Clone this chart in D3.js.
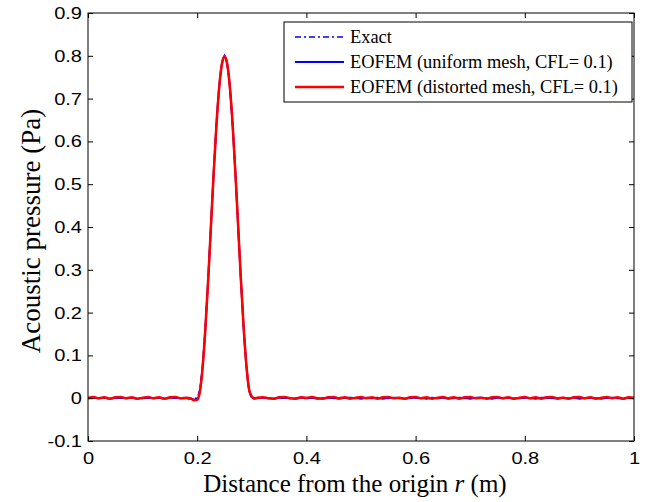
<!DOCTYPE html>
<html><head><meta charset="utf-8">
<script src="https://cdn.jsdelivr.net/npm/d3@7"></script>
<style>body{margin:0;background:#fff}svg{display:block}</style>
</head><body>
<svg id="chart" width="649" height="502"></svg>
<script>
// ---- data ----
const xTicks = [0, 0.2, 0.4, 0.6, 0.8, 1];
const xTickLabels = ["0", "0.2", "0.4", "0.6", "0.8", "1"];
const yTicks = [-0.1, 0, 0.1, 0.2, 0.3, 0.4, 0.5, 0.6, 0.7, 0.8, 0.9];
const yTickLabels = ["-0.1", "0", "0.1", "0.2", "0.3", "0.4", "0.5", "0.6", "0.7", "0.8", "0.9"];
const seriesNames = ["Exact", "EOFEM (uniform mesh, CFL= 0.1)", "EOFEM (distorted mesh, CFL= 0.1)"];

const rExact = [0, 0.2, 0.205, 0.21, 0.215, 0.22, 0.225, 0.23, 0.235, 0.24, 0.245, 0.25,
  0.255, 0.26, 0.265, 0.27, 0.275, 0.28, 0.285, 0.29, 0.295, 0.3, 1];
const pExact = [0, 0, 0.020, 0.076, 0.165, 0.276, 0.400, 0.524, 0.635, 0.724, 0.780, 0.800,
  0.780, 0.724, 0.635, 0.524, 0.400, 0.276, 0.165, 0.076, 0.020, 0, 0];

const rNum = [0, 0.01, 0.02, 0.03, 0.04, 0.05, 0.06, 0.07, 0.08, 0.09, 0.10, 0.11, 0.12, 0.13, 0.14,
  0.15, 0.16, 0.17, 0.18, 0.19, 0.195, 0.2, 0.205, 0.21, 0.215, 0.22, 0.225, 0.23, 0.235, 0.24,
  0.245, 0.25, 0.255, 0.26, 0.265, 0.27, 0.275, 0.28, 0.285, 0.29, 0.295, 0.3, 0.305, 0.31,
  0.32, 0.33, 0.34, 0.35, 0.36, 0.37, 0.38, 0.39, 0.40, 0.41, 0.42, 0.43, 0.44, 0.45, 0.46,
  0.47, 0.48, 0.49, 0.50, 0.51, 0.52, 0.53, 0.54, 0.55, 0.56, 0.57, 0.58, 0.59, 0.60, 0.61,
  0.62, 0.63, 0.64, 0.65, 0.66, 0.67, 0.68, 0.69, 0.70, 0.71, 0.72, 0.73, 0.74, 0.75, 0.76,
  0.77, 0.78, 0.79, 0.80, 0.81, 0.82, 0.83, 0.84, 0.85, 0.86, 0.87, 0.88, 0.89, 0.90, 0.91,
  0.92, 0.93, 0.94, 0.95, 0.96, 0.97, 0.98, 0.99, 1.00];

const pUniform = [0.000, 0.001, 0.000, 0.001, -0.001, 0.001, 0.001, 0.000, 0.001, -0.001, 0.000, 0.001, 0.000, 0.001, -0.001,
  0.001, 0.001, 0.000, 0.000, -0.002, -0.003, -0.002, 0.018, 0.075, 0.164, 0.275, 0.399, 0.523, 0.634, 0.723,
  0.779, 0.799, 0.780, 0.724, 0.636, 0.525, 0.401, 0.277, 0.166, 0.077, 0.020, 0.002, -0.001, 0.000,
  0.001, 0.000, -0.001, 0.001, 0.001, 0.000, -0.001, 0.001, 0.000, 0.001, -0.001, 0.000, 0.001, 0.000, -0.001,
  0.001, 0.001, 0.000, -0.001, 0.001, 0.000, 0.001, -0.001, 0.000, 0.001, 0.000, -0.001, 0.001, 0.001, 0.000,
  -0.001, 0.001, 0.000, 0.001, -0.001, 0.000, 0.001, 0.000, -0.001, 0.001, 0.001, 0.000, -0.001, 0.001, 0.000,
  0.001, -0.001, 0.000, 0.001, 0.000, -0.001, 0.001, 0.001, 0.000, -0.001, 0.001, 0.000, 0.001, -0.001, 0.000,
  0.001, 0.000, -0.001, 0.001, 0.001, 0.000, -0.001, 0.001, 0.000];

const pDistorted = [0.001, 0.003, 0.000, 0.002, -0.001, 0.002, 0.003, 0.000, 0.002, -0.001, 0.001, 0.003, 0.000, 0.002, -0.001,
  0.002, 0.003, 0.000, 0.001, -0.002, -0.005, -0.004, 0.016, 0.074, 0.163, 0.274, 0.398, 0.522, 0.633, 0.722,
  0.779, 0.799, 0.781, 0.725, 0.637, 0.526, 0.402, 0.278, 0.167, 0.078, 0.021, 0.004, 0.000, 0.001,
  0.002, 0.000, -0.001, 0.002, 0.003, 0.000, -0.001, 0.002, 0.001, 0.003, 0.000, -0.001, 0.002, 0.003, 0.000,
  0.002, -0.001, 0.001, 0.003, 0.000, 0.002, -0.001, 0.002, 0.003, 0.000, 0.001, -0.001, 0.002, 0.003, 0.000,
  0.002, -0.001, 0.001, 0.003, 0.000, 0.002, -0.001, 0.002, 0.003, 0.000, 0.001, -0.001, 0.002, 0.003, 0.000,
  0.002, -0.001, 0.001, 0.003, 0.000, 0.002, -0.001, 0.002, 0.003, 0.000, 0.001, -0.001, 0.002, 0.003, 0.000,
  0.002, -0.001, 0.001, 0.003, 0.000, 0.002, -0.001, 0.002, 0.001];

// ---- layout ----
const svg = d3.select("#chart");
const L = 88, R = 634, T = 13, B = 441;
const x = d3.scaleLinear().domain([0, 1]).range([L, R]);
const y = d3.scaleLinear().domain([-0.1, 0.9]).range([B, T]);
const tickFont = "'Liberation Sans', Arial, Helvetica, sans-serif";
const serif = "'Liberation Serif', 'Times New Roman', serif";
const stretch = 1.18;

const line = d3.line().x(d => x(d[0])).y(d => y(d[1]));

svg.append("clipPath").attr("id", "clip").append("rect")
  .attr("x", L).attr("y", T).attr("width", R - L).attr("height", B - T);

const plot = svg.append("g").attr("clip-path", "url(#clip)");
plot.append("path").datum(rExact.map((r, i) => [r, pExact[i]]))
  .attr("d", line).attr("fill", "none").attr("stroke", "#0000ff").attr("stroke-width", 1.5)
  .attr("stroke-dasharray", "6,3,2,3");
plot.append("path").datum(rNum.map((r, i) => [r, pUniform[i]]))
  .attr("d", line.curve(d3.curveMonotoneX)).attr("fill", "none").attr("stroke", "#0000ff").attr("stroke-width", 2);
plot.append("path").datum(rNum.map((r, i) => [r, pDistorted[i]]))
  .attr("d", line.curve(d3.curveMonotoneX)).attr("fill", "none").attr("stroke", "#ff0000").attr("stroke-width", 2.5);

// axes
const ax = svg.append("g");
ax.append("rect").attr("x", L).attr("y", T).attr("width", R - L).attr("height", B - T)
  .attr("fill", "none").attr("stroke", "#000").attr("stroke-width", 1);

const xb = ax.append("g").attr("transform", `translate(0,${B})`)
  .call(d3.axisBottom(x).tickValues(xTicks).tickSizeInner(-5).tickSizeOuter(0).tickPadding(11)
    .tickFormat((d, i) => xTickLabels[i]));
const xt = ax.append("g").attr("transform", `translate(0,${T})`)
  .call(d3.axisTop(x).tickValues(xTicks).tickSizeInner(-5).tickSizeOuter(0).tickFormat(""));
const yl = ax.append("g").attr("transform", `translate(${L},0)`)
  .call(d3.axisLeft(y).tickValues(yTicks).tickSizeInner(-5).tickSizeOuter(0).tickPadding(6)
    .tickFormat((d, i) => yTickLabels[i]));
const yr = ax.append("g").attr("transform", `translate(${R},0)`)
  .call(d3.axisRight(y).tickValues(yTicks).tickSizeInner(-5).tickSizeOuter(0).tickFormat(""));
[xb, xt, yl, yr].forEach(g => {
  g.select(".domain").remove();
  g.selectAll(".tick line").attr("stroke", "#000");
  g.selectAll("text").attr("font-family", tickFont).attr("font-size", 17).attr("fill", "#000");
});
xb.selectAll(".tick text").attr("transform", `scale(${stretch},1)`);
yl.selectAll(".tick text").attr("x", -6 / stretch).attr("transform", `scale(${stretch},1)`);

// axis labels
const xlab = svg.append("text").attr("x", 355).attr("y", 492).attr("text-anchor", "middle")
  .attr("font-family", serif).attr("font-size", 25).attr("fill", "#000");
xlab.append("tspan").text("Distance from the origin ");
xlab.append("tspan").attr("font-style", "italic").text("r");
xlab.append("tspan").text(" (m)");

svg.append("text").attr("transform", "translate(40,231) rotate(-90)").attr("text-anchor", "middle")
  .attr("font-family", serif).attr("font-size", 27).attr("fill", "#000")
  .text("Acoustic pressure (Pa)");

// legend
const lg = svg.append("g");
lg.append("rect").attr("x", 284).attr("y", 22).attr("width", 348).attr("height", 80)
  .attr("fill", "#fff").attr("stroke", "#000").attr("stroke-width", 1);
const legStyles = [
  {color: "#0000ff", dash: "6,3,2,3", w: 1.5},
  {color: "#0000ff", dash: null, w: 2},
  {color: "#ff0000", dash: null, w: 2.5}
];
const legY = d3.scalePoint().domain(seriesNames).range([37, 87]);
seriesNames.forEach((name, i) => {
  const yy = legY(name);
  lg.append("line").attr("x1", 295).attr("x2", 344).attr("y1", yy).attr("y2", yy)
    .attr("stroke", legStyles[i].color).attr("stroke-width", legStyles[i].w)
    .attr("stroke-dasharray", legStyles[i].dash);
  lg.append("text").attr("x", 350).attr("y", yy).attr("dy", "0.35em")
    .attr("font-family", serif).attr("font-size", 18.4).attr("fill", "#000").text(name);
});
</script>
</body></html>
